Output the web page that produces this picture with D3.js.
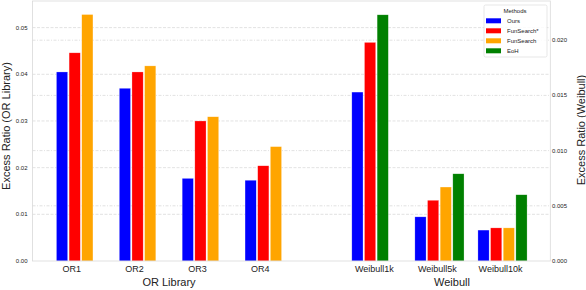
<!DOCTYPE html>
<html>
<head>
<meta charset="utf-8">
<script src="https://cdn.jsdelivr.net/npm/d3@7"></script>
<style>
  body { margin: 0; background: #fff; }
  text { font-family: "Liberation Sans", Arial, sans-serif; }
</style>
</head>
<body>
<script>
// chart data
const orCategories = ["OR1", "OR2", "OR3", "OR4"];
const weibullCategories = ["Weibull1k", "Weibull5k", "Weibull10k"];
const methods = ["Ours", "FunSearch*", "FunSearch", "EoH"];
const methodColors = ["#0000ff", "#ff0000", "#ffa500", "#008000"];

// OR Library (left axis)
const orOurs = [0.0405, 0.0370, 0.0177, 0.0173];
const orFunSearchStar = [0.0446, 0.0405, 0.0300, 0.0204];
const orFunSearch = [0.0528, 0.0418, 0.0309, 0.0245];

// Weibull (right axis), null = no bar
const weibullOurs = [0.0153, 0.0040, 0.0028];
const weibullFunSearchStar = [0.0198, 0.0055, 0.0030];
const weibullFunSearch = [null, 0.0067, 0.0030];
const weibullEoH = [0.0223, 0.0079, 0.0060];

const leftTicks = [0, 0.01, 0.02, 0.03, 0.04, 0.05];
const rightTicks = [0, 0.005, 0.010, 0.015, 0.020];

const w = 586, h = 290;
const plotLeft = 32.5, plotRight = 550.3, plotTop = 1, plotBottom = 261;
const barW = 11.2, step = 12.65;

const svg = d3.select("body").append("svg")
  .attr("width", w).attr("height", h);

// scales
const yLeft = d3.scaleLinear().domain([0, 0.0557]).range([plotBottom, plotTop]);
const yRight = d3.scaleLinear().domain([0, 0.02355]).range([plotBottom, plotTop]);
const xOr = d3.scalePoint().domain(orCategories).range([74.7, 263.3]);
const xWeibull = d3.scalePoint().domain(weibullCategories).range([376.4, 502.5]);

// grid lines (both axes)
svg.append("g").selectAll("line")
  .data(leftTicks.slice(1))
  .enter().append("line")
  .attr("x1", plotLeft).attr("x2", plotRight)
  .attr("y1", d => yLeft(d)).attr("y2", d => yLeft(d))
  .attr("stroke", "#d6d6d6").attr("stroke-width", 0.7)
  .attr("stroke-dasharray", "3,1.5");
svg.append("g").selectAll("line")
  .data(rightTicks.slice(1))
  .enter().append("line")
  .attr("x1", plotLeft).attr("x2", plotRight)
  .attr("y1", d => yRight(d)).attr("y2", d => yRight(d))
  .attr("stroke", "#d6d6d6").attr("stroke-width", 0.7)
  .attr("stroke-dasharray", "3,1.5,1,1.5");

// OR bars: three series per group
const orSeries = [orOurs, orFunSearchStar, orFunSearch];
orSeries.forEach((vals, s) => {
  svg.append("g").selectAll("rect")
    .data(orCategories.map((c, i) => ({ c, v: vals[i] })))
    .enter().append("rect")
    .attr("x", d => xOr(d.c) + (s - 1) * step - barW / 2)
    .attr("y", d => yLeft(d.v))
    .attr("width", barW)
    .attr("height", d => plotBottom - yLeft(d.v))
    .attr("fill", methodColors[s])
    .attr("stroke", "#fff").attr("stroke-opacity", 0.5).attr("stroke-width", 0.5);
});

// Weibull bars: four slots, missing ones are squeezed out
const weibullSeries = [weibullOurs, weibullFunSearchStar, weibullFunSearch, weibullEoH];
weibullCategories.forEach((c, i) => {
  const present = weibullSeries
    .map((vals, s) => ({ s, v: vals[i] }))
    .filter(d => d.v !== null);
  svg.append("g").selectAll("rect")
    .data(present)
    .enter().append("rect")
    .attr("x", (d, k) => xWeibull(c) + (k - 1.5) * step - barW / 2)
    .attr("y", d => yRight(d.v))
    .attr("width", barW)
    .attr("height", d => plotBottom - yRight(d.v))
    .attr("fill", d => methodColors[d.s])
    .attr("stroke", "#fff").attr("stroke-opacity", 0.5).attr("stroke-width", 0.5);
});

// frame
svg.append("rect")
  .attr("x", plotLeft).attr("y", plotTop)
  .attr("width", plotRight - plotLeft).attr("height", plotBottom - plotTop)
  .attr("fill", "none").attr("stroke", "#d9d9d9").attr("stroke-width", 0.8);

// y tick labels
svg.append("g").selectAll("text")
  .data(leftTicks)
  .enter().append("text")
  .attr("x", 27.5).attr("y", d => yLeft(d) + 2)
  .attr("text-anchor", "end")
  .attr("font-size", "6px").attr("fill", "#222")
  .text(d => d3.format(".2f")(d));
svg.append("g").selectAll("text")
  .data(rightTicks)
  .enter().append("text")
  .attr("x", 552).attr("y", d => yRight(d) + 2)
  .attr("font-size", "6px").attr("fill", "#222")
  .text(d => d3.format(".3f")(d));

// x tick labels
svg.append("g").selectAll("text")
  .data(orCategories)
  .enter().append("text")
  .attr("x", d => xOr(d) - 3).attr("y", 272)
  .attr("text-anchor", "middle")
  .attr("font-size", "9px").attr("fill", "#222")
  .text(d => d);
svg.append("g").selectAll("text")
  .data(weibullCategories)
  .enter().append("text")
  .attr("x", d => xWeibull(d) - 2).attr("y", 272)
  .attr("text-anchor", "middle")
  .attr("font-size", "9px").attr("fill", "#222")
  .text(d => d);

// group labels
svg.append("text")
  .attr("x", 169).attr("y", 286)
  .attr("text-anchor", "middle").attr("font-size", "11px").attr("fill", "#222")
  .text("OR Library");
svg.append("text")
  .attr("x", 452).attr("y", 286)
  .attr("text-anchor", "middle").attr("font-size", "11px").attr("fill", "#222")
  .text("Weibull");

// axis titles
svg.append("text")
  .attr("transform", "translate(10,126) rotate(-90)")
  .attr("text-anchor", "middle").attr("font-size", "11px").attr("fill", "#222")
  .text("Excess Ratio (OR Library)");
svg.append("text")
  .attr("transform", "translate(584.5,130) rotate(-90)")
  .attr("text-anchor", "middle").attr("font-size", "11px").attr("fill", "#222")
  .text("Excess Ratio (Weibull)");

// legend
const legend = svg.append("g").attr("transform", "translate(484,5)");
legend.append("rect")
  .attr("width", 63).attr("height", 52).attr("rx", 1.5)
  .attr("fill", "#fff").attr("fill-opacity", 0.85)
  .attr("stroke", "#dcdcdc").attr("stroke-width", 0.7);
legend.append("text")
  .attr("x", 31).attr("y", 7.5)
  .attr("text-anchor", "middle").attr("font-size", "6px").attr("fill", "#222")
  .text("Methods");
const items = legend.selectAll("g.item")
  .data(methods)
  .enter().append("g")
  .attr("class", "item")
  .attr("transform", (d, i) => `translate(2,${13.3 + i * 10})`);
items.append("rect")
  .attr("width", 15).attr("height", 5)
  .attr("fill", (d, i) => methodColors[i]);
items.append("text")
  .attr("x", 21).attr("y", 4.8)
  .attr("font-size", "6px").attr("fill", "#222")
  .text(d => d);
</script>
</body>
</html>
